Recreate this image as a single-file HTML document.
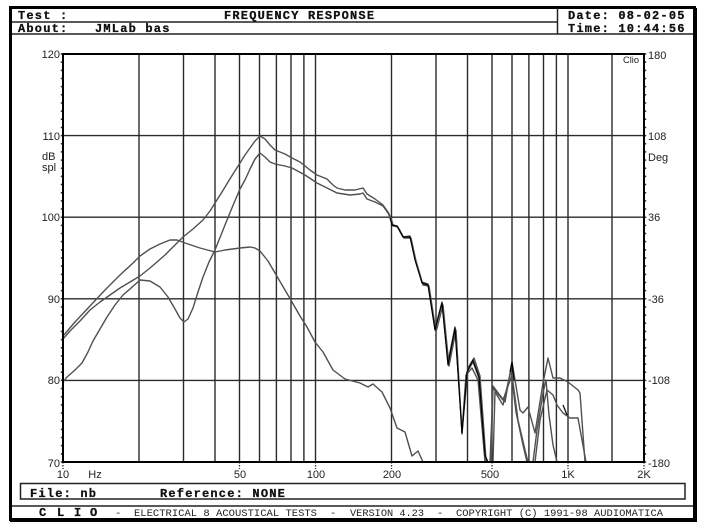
<!DOCTYPE html>
<html><head><meta charset="utf-8"><style>
html,body{margin:0;padding:0;background:#fff;}
svg{display:block;}
.h{font-family:"Liberation Mono",monospace;font-weight:bold;font-size:12px;letter-spacing:1.2px;fill:#111;stroke:#111;stroke-width:0.3px;}
.f{font-family:"Liberation Mono",monospace;font-size:10.5px;fill:#222;}
.fb{font-family:"Liberation Mono",monospace;font-weight:bold;font-size:12px;fill:#111;stroke:#111;stroke-width:0.3px;}
.t{font-family:"Liberation Sans",sans-serif;font-size:11px;fill:#222;}
</style></head><body>
<svg width="705" height="528" viewBox="0 0 705 528" xmlns="http://www.w3.org/2000/svg">
<rect width="705" height="528" fill="#fff"/>
<!-- outer frame -->
<rect x="10.5" y="7.5" width="684" height="512" fill="none" stroke="#000" stroke-width="3"/>
<line x1="696" y1="8" x2="696" y2="522" stroke="#000" stroke-width="2"/>
<line x1="10" y1="521" x2="697" y2="521" stroke="#000" stroke-width="2"/>
<line x1="12" y1="22" x2="557" y2="22" stroke="#222" stroke-width="1.5"/>
<line x1="12" y1="34" x2="693" y2="34" stroke="#222" stroke-width="1.5"/>
<line x1="557.5" y1="8" x2="557.5" y2="34" stroke="#222" stroke-width="1.5"/>
<rect x="20.5" y="483.5" width="664.5" height="15.5" fill="none" stroke="#222" stroke-width="1.5"/>
<line x1="12" y1="506" x2="693" y2="506" stroke="#222" stroke-width="1.5"/>

<!-- header text -->
<text class="h" x="18" y="19">Test :</text>
<text class="h" x="224" y="19">FREQUENCY RESPONSE</text>
<text class="h" x="568" y="19">Date: 08-02-05</text>
<text class="h" x="18" y="32">About:</text>
<text class="h" x="95" y="32">JMLab bas</text>
<text class="h" x="568" y="32">Time: 10:44:56</text>

<!-- file row -->
<text class="h" x="30" y="497">File: nb</text>
<text class="h" x="160" y="497">Reference: NONE</text>

<!-- footer -->
<text class="fb" x="39" y="516">C</text>
<text class="fb" x="57" y="516">L</text>
<text class="fb" x="74" y="516">I</text>
<text class="fb" x="90" y="516">O</text>
<text class="f" x="115" y="516">-</text>
<text class="f" x="134" y="516" textLength="183" lengthAdjust="spacingAndGlyphs">ELECTRICAL 8 ACOUSTICAL TESTS</text>
<text class="f" x="330" y="516">-</text>
<text class="f" x="350" y="516" textLength="74" lengthAdjust="spacingAndGlyphs">VERSION 4.23</text>
<text class="f" x="437" y="516">-</text>
<text class="f" x="456" y="516" textLength="207" lengthAdjust="spacingAndGlyphs">COPYRIGHT (C) 1991-98 AUDIOMATICA</text>

<!-- grid -->
<g stroke="#2a2a2a" stroke-width="1.4">
<line x1="139" y1="54" x2="139" y2="462"/>
<line x1="183.5" y1="54" x2="183.5" y2="462"/>
<line x1="215" y1="54" x2="215" y2="462"/>
<line x1="239.5" y1="54" x2="239.5" y2="462"/>
<line x1="259.5" y1="54" x2="259.5" y2="462"/>
<line x1="276.4" y1="54" x2="276.4" y2="462"/>
<line x1="291" y1="54" x2="291" y2="462"/>
<line x1="303.9" y1="54" x2="303.9" y2="462"/>
<line x1="315.5" y1="54" x2="315.5" y2="462"/>
<line x1="391.5" y1="54" x2="391.5" y2="462"/>
<line x1="436" y1="54" x2="436" y2="462"/>
<line x1="467.5" y1="54" x2="467.5" y2="462"/>
<line x1="492" y1="54" x2="492" y2="462"/>
<line x1="512" y1="54" x2="512" y2="462"/>
<line x1="528.9" y1="54" x2="528.9" y2="462"/>
<line x1="543.5" y1="54" x2="543.5" y2="462"/>
<line x1="556.4" y1="54" x2="556.4" y2="462"/>
<line x1="568" y1="54" x2="568" y2="462"/>
<line x1="612" y1="54" x2="612" y2="462"/>
<line x1="63" y1="135.6" x2="644" y2="135.6"/>
<line x1="63" y1="217.2" x2="644" y2="217.2"/>
<line x1="63" y1="298.8" x2="644" y2="298.8"/>
<line x1="63" y1="380.4" x2="644" y2="380.4"/>
</g>
<!-- minor ticks -->
<line x1="61.5" y1="53.25" x2="61.5" y2="463" stroke="#333" stroke-width="1.5" stroke-dasharray="1.5 6.66"/>
<line x1="645.5" y1="53.25" x2="645.5" y2="463" stroke="#333" stroke-width="1.5" stroke-dasharray="1.5 6.66"/>
<g stroke="#333" stroke-width="1.3" stroke-dasharray="1.5 1.5">
<line x1="63" y1="462" x2="63" y2="469"/>
<line x1="239.5" y1="462" x2="239.5" y2="469"/>
<line x1="315.5" y1="462" x2="315.5" y2="469"/>
<line x1="391.5" y1="462" x2="391.5" y2="469"/>
<line x1="492" y1="462" x2="492" y2="469"/>
<line x1="568" y1="462" x2="568" y2="469"/>
<line x1="644" y1="462" x2="644" y2="469"/>
</g>

<!-- curves -->
<g fill="none" stroke="#505050" stroke-width="1.4" stroke-linejoin="round">
<polyline points="63,336 75,322 90,306 105,290 120,275 133,263 140,256 150,249 160,244 170,240 177,240 185,243 200,248 215,252 225,250 240,248 250,247 255,248 260,251 268,261 275,273 285,290 292,302 300,316 307,327 315,342 323,352 333,370 345,379 360,383 368,387 373,384 382,392 390,408 397,428 405,432 412,456 418,451 423,462"/>
<polyline points="63,339 70,331 80,321 90,310 100,302 110,295 120,288 130,282 140,276 150,268 157,262 165,255 175,245 183,237 193,229 203,220 210,211 215,203 222,192 228,182 233,174 240,163 245,155 250,148 255,141 260,136 265,139 270,145 275,150 285,154 292,158 300,162 310,170 317,175 327,179 333,185 337,188 345,190 355,190 363,188 367,194 375,199 383,205 388,212 391,218 393,225 397,226 403,237 410,236 415,258 422,282 428,284 435,329 442,302 448,362 455,327 462,431 468,368 474,358 480,376 486,460 487,462"/>
<polyline points="491,462 493,386 505,402 512,362 520,410 523,413 528,407 535,433 543,383 548,358 553,378 560,378 568,382 578,390 580,393 585,462"/>
<polyline points="63,382 67,377 75,370 82,363 88,352 93,341 100,329 107,317 115,305 123,295 130,289 140,280 150,281 160,287 168,297 175,309 180,318 184,322 188,319 193,308 198,292 203,277 209,262 215,250 221,235 227,220 234,203 240,189 245,180 250,169 255,159 260,153 265,157 270,162 275,164 285,166 292,168 305,175 317,183 327,188 337,193 350,195 360,194 363,193 367,199 375,202 383,206 388,213 391,219 393,226 398,227 404,238 411,238 416,261 423,285 429,286 436,332 443,305 449,366 456,330 462,434 467,372 473,362 479,378 484,446 486,462"/>
<polyline points="493,462 495,392 503,405 511,370 516,412 523,445 527,462"/>
<polyline points="533,462 537,430 543,393 546,380 549,415 553,445 557,462"/>
<polyline points="462,432 466,375 472,368 478,380 485,462"/>
<polyline points="490,462 493,388 503,400 512,375 518,420 525,450 528,462"/>
<polyline points="535,462 540,420 547,390 553,395 557,405 563,413 570,418 578,418 582,440 586,462"/>
</g>
<polyline fill="none" stroke="#000" stroke-width="1.2" stroke-linejoin="round" points="390,218 392,225 397,226 403,237 410,237 415,260 422,283 428,285 435,330 442,303 448,365 455,328 462,433 467,372 473,360 479,377 485,455 488,462"/>
<polyline fill="none" stroke="#000" stroke-width="1.2" points="510,372 512,362 514,380"/>
<polyline fill="none" stroke="#000" stroke-width="1.2" points="563,405 565,410 567,415"/>

<!-- plot frame -->
<rect x="63" y="54" width="581" height="408" fill="none" stroke="#000" stroke-width="2"/>

<!-- y labels left -->
<g class="t" text-anchor="end">
<text x="60" y="58">120</text>
<text x="60" y="140">110</text>
<text x="60" y="221">100</text>
<text x="60" y="303">90</text>
<text x="60" y="384">80</text>
<text x="60" y="467">70</text>
</g>
<text class="t" x="42" y="160">dB</text>
<text class="t" x="42" y="171">spl</text>
<!-- y labels right -->
<g class="t">
<text x="648" y="59">180</text>
<text x="648" y="140">108</text>
<text x="648" y="221">36</text>
<text x="648" y="303">-36</text>
<text x="648" y="384">-108</text>
<text x="648" y="467">-180</text>
<text x="648" y="161">Deg</text>
</g>
<text class="t" x="623" y="63" style="font-size:9px" textLength="16" lengthAdjust="spacingAndGlyphs">Clio</text>
<!-- x labels -->
<g class="t" text-anchor="middle">
<text x="63" y="478">10</text>
<text x="95" y="478">Hz</text>
<text x="240" y="478">50</text>
<text x="316" y="478">100</text>
<text x="392" y="478">200</text>
<text x="490" y="478">500</text>
<text x="568" y="478">1K</text>
<text x="644" y="478">2K</text>
</g>
</svg>
</body></html>
